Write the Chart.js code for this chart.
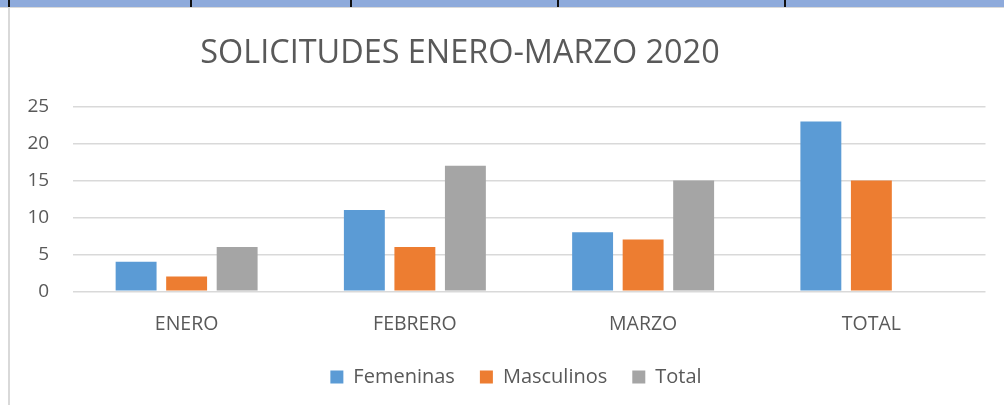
<!DOCTYPE html>
<html>
<head>
<meta charset="utf-8">
<script src="https://cdn.jsdelivr.net/npm/chart.js@4.4.1/dist/chart.umd.min.js"></script>
<style>
  html, body { margin: 0; padding: 0; background: #fff; }
  #marco { position: relative; width: 1004px; height: 405px; overflow: hidden; }
  #franja { position: absolute; left: 0; top: 0; width: 1004px; height: 7px; background: #8eaadb; border-bottom: 1px solid #d9d9d9; }
  .sep { position: absolute; top: 0; width: 2px; height: 7px; background: #111; }
  #borde { position: absolute; left: 8px; top: 8px; width: 2px; height: 397px; background: #d9d9d9; }
  #grafica-box { position: absolute; left: 0; top: 0; width: 1004px; height: 405px; }
</style>
</head>
<body>
<div id="marco">
  <div id="grafica-box"><canvas id="solicitudes-grafica"></canvas></div>
  <div id="franja"></div>
  <div class="sep" style="left:8px"></div>
  <div class="sep" style="left:190px"></div>
  <div class="sep" style="left:350px"></div>
  <div class="sep" style="left:557px"></div>
  <div class="sep" style="left:784px"></div>
  <div id="borde"></div>
</div>
<script>
const meses = ['ENERO', 'FEBRERO', 'MARZO', 'TOTAL'];
const femeninas = [4, 11, 8, 23];
const masculinos = [2, 6, 7, 15];
const total = [6, 17, 15, null];
const ticksY = [0, 5, 10, 15, 20, 25];

const colorTexto = '#595959';
const fuente = "'Open Sans', 'Noto Sans', sans-serif";

// titulo dibujado a mano para poder centrarlo donde va en el original
const tituloPlugin = {
    id: 'tituloPlugin',
    afterDraw(chart) {
        const ctx = chart.ctx;
        ctx.save();
        ctx.font = `400 32.4px ${fuente}`;
        ctx.fillStyle = colorTexto;
        ctx.textAlign = 'center';
        ctx.textBaseline = 'middle';
        ctx.fillText('SOLICITUDES ENERO-MARZO 2020', 460, 54);
        ctx.restore();
    }
};

const ctx = document.getElementById('solicitudes-grafica');
new Chart(ctx, {
    type: 'bar',
    data: {
        labels: meses,
        datasets: [
            { label: 'Femeninas', data: femeninas, backgroundColor: '#5b9bd5' },
            { label: 'Masculinos', data: masculinos, backgroundColor: '#ed7d31' },
            { label: 'Total', data: total, backgroundColor: '#a5a5a5' }
        ]
    },
    options: {
        responsive: true,
        maintainAspectRatio: false,
        animation: false,
        datasets: {
            bar: { categoryPercentage: 0.664, barPercentage: 0.81 }
        },
        layout: {
            padding: { left: 46.5, right: 18.5, top: 106.7, bottom: 8 }
        },
        scales: {
            x: {
                grid: { display: false, drawTicks: false },
                border: { display: false },
                ticks: { color: colorTexto, font: { family: fuente, size: 19.5 }, padding: 21 },
                afterFit(scale) { scale.height = 50.7; }
            },
            y: {
                min: 0,
                max: 25,
                afterBuildTicks(scale) { scale.ticks = ticksY.map(v => ({ value: v })); },
                grid: { color: '#d9d9d9', lineWidth: 1.5, drawTicks: false },
                border: { display: false },
                // mirror + far para que las etiquetas no se recorten fuera de la caja del eje
                ticks: {
                    color: colorTexto,
                    font: { family: fuente, size: 19 },
                    mirror: true,
                    crossAlign: 'far',
                    padding: -45
                },
                afterFit(scale) { scale.width = 26; }
            }
        },
        plugins: {
            legend: {
                position: 'bottom',
                labels: {
                    color: colorTexto,
                    font: { family: fuente, size: 20 },
                    boxWidth: 13,
                    boxHeight: 13,
                    padding: 25
                }
            },
            tooltip: { enabled: false }
        }
    },
    plugins: [tituloPlugin]
});
</script>
</body>
</html>
